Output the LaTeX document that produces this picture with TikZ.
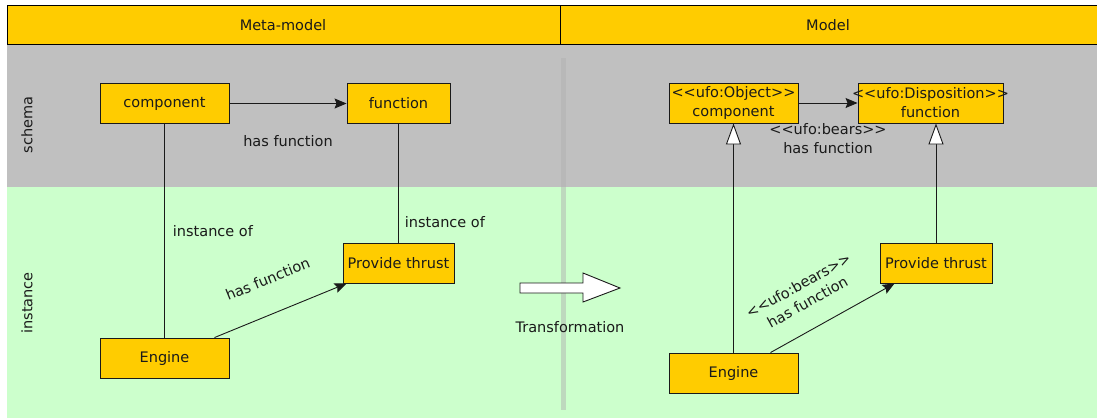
\documentclass[tikz,border=0pt]{standalone}
\usepackage{fontspec}
\newfontfamily\uifont{DejaVu Sans}
\usepackage{xcolor}
\usetikzlibrary{arrows.meta,positioning}
\definecolor{hdryellow}{HTML}{FFCC00}
\definecolor{schemagray}{HTML}{C0C0C0}
\definecolor{instgreen}{HTML}{CCFFCC}
\definecolor{inkgray}{HTML}{1A1A1A}

\begin{document}
\begin{tikzpicture}[
        x=1pt, y=-1pt,
        box/.style={rectangle, draw=inkgray, line width=0.9pt, fill=hdryellow, minimum height=40pt, align=center, inner sep=2pt, text=inkgray, font=\uifont\fontsize{14.5}{19}\selectfont},
        lbl/.style={inner sep=2pt, align=center, text=inkgray, font=\uifont\fontsize{14.5}{19}\selectfont},
        lane/.style={lbl, rotate=90},
        link/.style={draw=inkgray, line width=0.9pt},
        arrow/.style={link, -{Stealth[length=12pt, width=10pt, inset=2pt]}},
        gen/.style={link, -{Triangle[length=21pt, width=15pt, fill=white]}}
    ]
        \useasboundingbox (0,0) rectangle (1097,418);

        % Swimlanes
        \fill[schemagray] (7,44) rectangle (1097,187);
        \fill[instgreen] (7,187) rectangle (1097,418);
        \fill[gray!60, opacity=0.5] (561,58) rectangle (566,410);
        \draw[fill=hdryellow, line width=1pt] (7,5) rectangle (560,44);
        \draw[fill=hdryellow, line width=1pt] (560,5) rectangle (1097,44);
        \node[lbl] (metahdr) at (283,25) {Meta-model};
        \node[lbl] (modelhdr) at (828,25) {Model};
        \node[lane] (schemalane) at (27,125) {schema};
        \node[lane] (instlane) at (27,303) {instance};

        % Meta-model
        \node[box, minimum width=129pt] (comp) at (164.5,103.5) {component};
        \node[box, minimum width=103pt] (func) at (398.5,103.5) {function};
        \node[box, minimum width=129pt] (engine) at (164.5,358) {Engine};
        \node[box, minimum width=111pt] (thrust) at (398.5,263) {Provide thrust};

        % Model
        \node[box, minimum width=129pt] (ucomp) at (733.5,103) {<<ufo:Object>>\\component};
        \node[box, minimum width=145pt] (ufunc) at (930.5,103) {\makebox[120pt][c]{<<ufo:Disposition>>}\\function};
        \node[box, minimum width=129pt] (uengine) at (733.5,373) {Engine};
        \node[box, minimum width=112pt] (uthrust) at (936,263) {Provide thrust};

        % Transformation
        \draw[draw=inkgray, fill=white, line width=0.9pt] (520,283) -- (583,283) -- (583,273) -- (620,288) -- (583,302) -- (583,293) -- (520,293) -- cycle;
        \node[lbl] (transf) at (570,327) {Transformation};

        % Arrows
        \draw[arrow] (comp) -- node[lbl, below=30pt] (hasfn) {has function} (func);
        \draw[link] (comp) -- node[lbl, right=6pt, pos=0.5] (instof) {instance of} (engine);
        \draw[link] (func) -- node[lbl, right=4pt, pos=0.83] (instof2) {instance of} (thrust);
        \draw[arrow] ([xshift=50pt]engine.north) -- node[lbl, sloped, above=26pt] (hasfn2) {has function} ([xshift=4pt]thrust.south west);

        \draw[arrow] (ucomp) -- node[lbl, below=18pt] (bears) {<<ufo:bears>>\\has function} (ufunc);
        \draw[gen] (uengine) -- (ucomp);
        \draw[gen] (uthrust.north) -- (uthrust.north |- ufunc.south);
        \draw[arrow] ([xshift=37pt]uengine.north) -- node[lbl, sloped, above=18pt, pos=0.4] (bears2) {<<ufo:bears>>\\has function} ([xshift=15pt]uthrust.south west);
    \end{tikzpicture}
\end{document}
